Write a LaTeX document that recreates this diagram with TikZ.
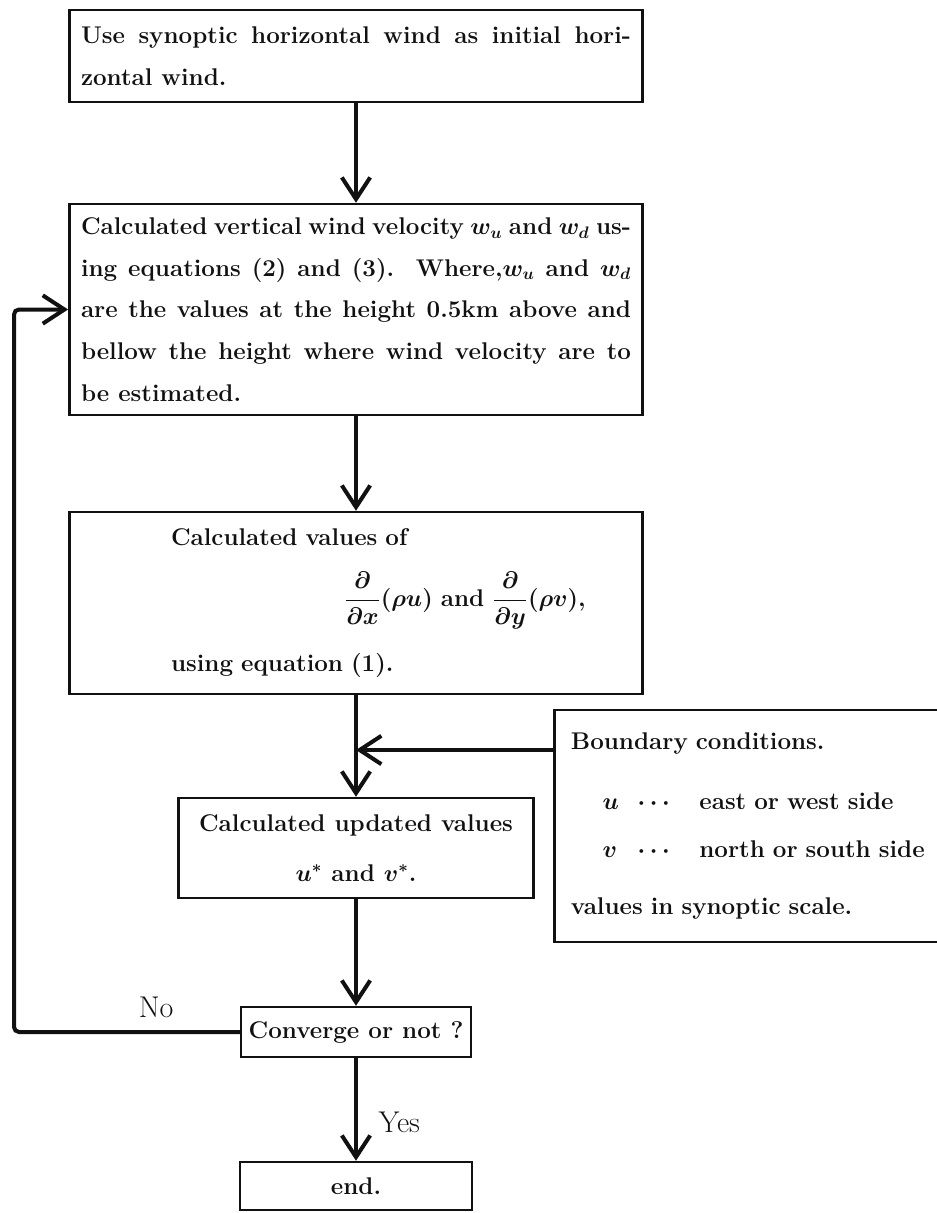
\documentclass[tikz,border=0pt]{standalone}
\usepackage{amsmath}
\usepackage{xcolor}
\definecolor{ink}{HTML}{111111}
\usepackage{tikz}
\usetikzlibrary{arrows.meta,positioning,calc}

\begin{document}
\begin{tikzpicture}[x=0.6pt, y=-0.6pt,
    procbox/.style={draw=ink, line width=1.5pt, inner xsep=7pt, inner ysep=0pt, text=ink,
      font={\fontsize{14.5}{25}\selectfont\bfseries\boldmath}},
    flow/.style={draw=ink, line width=2.4pt, -{Straight Barb[length=13pt,width=17pt]}},
    lbl/.style={font={\fontsize{18}{20}\selectfont}, text=ink}]
        \useasboundingbox (0,0) rectangle (936,1213);
        % main column
        \node[procbox, text width=330pt, minimum height=55.2pt, align=justify] (init) at (356,56)
          {Use synoptic horizontal wind as initial hori-\linebreak zontal wind.};
        \node[procbox, text width=330pt, minimum height=126.6pt, align=justify] (vert) at (356,309.5)
          {Calculated vertical wind velocity $w_u$ and $w_d$ us-\linebreak
           ing equations (2) and (3).\ \ Where,$w_u$ and $w_d$\linebreak
           are the values at the height 0.5km above and\linebreak
           bellow the height where wind velocity are to\linebreak
           be estimated.};
        \node[procbox, text width=330pt, minimum height=109.2pt, align=left] (flux) at (356,603)
          {\hspace*{54pt}Calculated values of\\[12pt]
           \hspace*{158pt}$\dfrac{\partial}{\partial x}(\rho u)$ and $\dfrac{\partial}{\partial y}(\rho v)$,\\[14pt]
           \hspace*{54pt}using equation (1).};
        \node[procbox, minimum width=213pt, minimum height=60pt, align=center] (upd) at (356,848)
          {Calculated updated values\\[5pt] $u^{*}$ and $v^{*}$.};
        \node[procbox, inner xsep=3pt, minimum width=138pt, minimum height=30pt] (conv) at (356,1032) {Converge or not ?};
        \node[procbox, minimum width=139pt, minimum height=28.8pt] (fin) at (356,1186) {end.};
        % boundary box, cut by the right margin
        \node[procbox, anchor=west, inner xsep=10pt, text width=232pt, minimum height=139.2pt, align=left] (bnd) at (553,826)
          {Boundary conditions.\\[11pt]
           \hspace*{19pt}\makebox[14pt][l]{$u$}\hspace{7pt}$\cdots$\hspace{15pt}east or west side\\[4pt]
           \hspace*{19pt}\makebox[14pt][l]{$v$}\hspace{7pt}$\cdots$\hspace{15pt}north or south side\\[9pt]
           values in synoptic scale.};
        \coordinate (merge) at (356,750);
        \coordinate (back) at (14,660);
        % connectors
        \draw[flow] (init) -- (vert);
        \draw[flow] (vert) -- (flux);
        \draw[flow] (flux) -- (upd);
        \draw[flow] (bnd.west |- merge) -- (merge);
        \draw[flow] (upd) -- (conv);
        \draw[flow] (conv) -- node[lbl, right=9pt, pos=0.63] {Yes} (fin);
        \draw[flow, rounded corners=3pt] (conv.west) -- node[lbl, above=4pt, pos=0.37] {No} (conv.west -| back) |- (vert.west);
\end{tikzpicture}
\end{document}
